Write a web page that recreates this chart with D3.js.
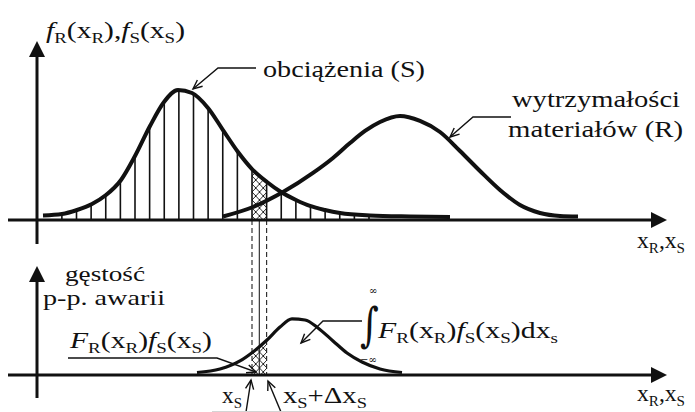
<!DOCTYPE html>
<html>
<head>
<meta charset="utf-8">
<script src="https://cdn.jsdelivr.net/npm/d3@7"></script>
<style>
  html, body { margin: 0; padding: 0; background: #fff; }
  svg { display: block; }
</style>
</head>
<body>
<svg id="chart" width="695" height="412"></svg>
<script>
// Load density f_S(x_S) – "obciążenia (S)"
const loadX = [1.2, 5, 8, 11, 13.8, 16.8, 19.6, 22.6, 25.4, 28.2, 31, 34.2, 37.2, 40.2, 43, 46, 48.8, 51.8, 54.6, 57.6, 60.6, 66.6, 74.6, 82.6];
const loadF = [0.035, 0.046, 0.077, 0.123, 0.192, 0.308, 0.492, 0.723, 0.908, 1.0, 0.977, 0.862, 0.692, 0.523, 0.392, 0.292, 0.215, 0.154, 0.108, 0.077, 0.054, 0.035, 0.027, 0.023];

// Resistance density f_R(x_R) – "wytrzymałości materiałów (R)"
const resX = [37.2, 43.2, 49.2, 55.2, 59.2, 62.6, 65.6, 68.6, 72.6, 76.6, 80.6, 84.6, 88.6, 92.6, 96.6, 100.6, 104.6, 108.2];
const resF = [0.027, 0.1, 0.215, 0.362, 0.477, 0.592, 0.685, 0.754, 0.8, 0.762, 0.677, 0.531, 0.377, 0.231, 0.115, 0.054, 0.031, 0.027];

// Failure probability density F_R(x) f_S(x)
const failX = [32, 36.6, 40.6, 43.2, 46, 48.6, 51, 53.6, 56.2, 59.2, 62, 65, 68.6, 73];
const failF = [0.019, 0.046, 0.108, 0.177, 0.269, 0.369, 0.431, 0.423, 0.362, 0.262, 0.169, 0.1, 0.046, 0.019];

// Elementary strip [x_S, x_S + Δx_S] and the hatching extent under f_S
const stripStart = 43;
const stripWidth = 2.925;
const hatchFrom = 4.975;
const hatchTo = 66.5;

const loadPts = loadX.map((v, i) => [v, loadF[i]]);
const resPts = resX.map((v, i) => [v, resF[i]]);
const failPts = failX.map((v, i) => [v, failF[i]]);

const svg = d3.select("#chart");
const x = d3.scaleLinear().domain([0, 126]).range([37, 667]);
const yTop = d3.scaleLinear().domain([0, 1]).range([220, 90]);
const yBot = d3.scaleLinear().domain([0, 1]).range([375, 245]);

const defs = svg.append("defs");

// cross-hatch fill for the strip
const pat = defs.append("pattern")
  .attr("id", "xhatch").attr("patternUnits", "userSpaceOnUse")
  .attr("x", x(stripStart)).attr("y", 0)
  .attr("width", 7.5).attr("height", 8);
pat.append("path").attr("d", "M0,0L7.5,8M7.5,0L0,8M-1,7L1,9M6.5,-1L8.5,1")
  .attr("stroke", "#111").attr("stroke-width", 0.9).attr("fill", "none");

const lineTop = d3.line().x(d => x(d[0])).y(d => yTop(d[1])).curve(d3.curveMonotoneX);
const lineBot = d3.line().x(d => x(d[0])).y(d => yBot(d[1])).curve(d3.curveMonotoneX);
const areaTop = d3.area().x(d => x(d[0])).y0(yTop(0)).y1(d => yTop(d[1])).curve(d3.curveMonotoneX);
const areaBot = d3.area().x(d => x(d[0])).y0(yBot(0)).y1(d => yBot(d[1])).curve(d3.curveMonotoneX);

defs.append("clipPath").attr("id", "underLoad").append("path").attr("d", areaTop(loadPts));
defs.append("clipPath").attr("id", "underFail").append("path").attr("d", areaBot(failPts));

// vertical hatching under the load density
const hatchXs = d3.range(hatchFrom, hatchTo, stripWidth);
svg.append("g").attr("clip-path", "url(#underLoad)")
  .selectAll("line").data(hatchXs).join("line")
  .attr("x1", d => x(d)).attr("x2", d => x(d))
  .attr("y1", yTop(0)).attr("y2", yTop(1.1))
  .attr("stroke", "#111").attr("stroke-width", 1.6);

// cross-hatched strip in both panels
svg.append("rect").attr("clip-path", "url(#underLoad)")
  .attr("x", x(stripStart)).attr("width", x(stripStart + stripWidth) - x(stripStart))
  .attr("y", yTop(1.1)).attr("height", yTop(0) - yTop(1.1))
  .attr("fill", "url(#xhatch)");
svg.append("rect").attr("clip-path", "url(#underFail)")
  .attr("x", x(stripStart)).attr("width", x(stripStart + stripWidth) - x(stripStart))
  .attr("y", yBot(1.1)).attr("height", yBot(0) - yBot(1.1))
  .attr("fill", "url(#xhatch)");

// guide lines joining the strip between panels
[stripStart, stripStart + stripWidth].forEach(v => {
  svg.append("line").attr("x1", x(v)).attr("x2", x(v))
    .attr("y1", yTop(0)).attr("y2", yBot(0))
    .attr("stroke", "#222").attr("stroke-width", 1.1).attr("stroke-dasharray", "5,3");
});
svg.append("line")
  .attr("x1", x(stripStart + stripWidth / 2)).attr("x2", x(stripStart + stripWidth / 2))
  .attr("y1", yTop(0)).attr("y2", yBot(0))
  .attr("stroke", "#222").attr("stroke-width", 1.1);

// density curves
svg.append("path").attr("d", lineTop(loadPts)).attr("fill", "none")
  .attr("stroke", "#111").attr("stroke-width", 4).attr("stroke-linecap", "butt");
svg.append("path").attr("d", lineTop(resPts)).attr("fill", "none")
  .attr("stroke", "#111").attr("stroke-width", 4).attr("stroke-linecap", "butt");
svg.append("path").attr("d", lineBot(failPts)).attr("fill", "none")
  .attr("stroke", "#111").attr("stroke-width", 3.2).attr("stroke-linecap", "butt");

// axes with filled arrowheads
function axisArrow(x1, y1, x2, y2) {
  const ang = Math.atan2(y2 - y1, x2 - x1), L = 16, W = 8;
  const bx = x2 - L * Math.cos(ang), by = y2 - L * Math.sin(ang);
  svg.append("line").attr("x1", x1).attr("y1", y1).attr("x2", bx).attr("y2", by)
    .attr("stroke", "#111").attr("stroke-width", 3);
  svg.append("polygon").attr("fill", "#111").attr("points", [
    [x2, y2],
    [bx + W * Math.sin(ang), by - W * Math.cos(ang)],
    [bx - W * Math.sin(ang), by + W * Math.cos(ang)]
  ].map(p => p.join(",")).join(" "));
}
axisArrow(8, yTop(0), 667, yTop(0));
axisArrow(x(0), 244, x(0), 41);
axisArrow(8, yBot(0), 667, yBot(0));
axisArrow(x(0), 398, x(0), 266);

// leader lines with open arrowheads
function leader(pts) {
  svg.append("path").attr("d", d3.line()(pts)).attr("fill", "none")
    .attr("stroke", "#111").attr("stroke-width", 1.4);
  const [p, q] = pts.slice(-2);
  const ang = Math.atan2(q[1] - p[1], q[0] - p[0]), L = 10, a = 0.42;
  const arm = s => [q[0] - L * Math.cos(ang + s * a), q[1] - L * Math.sin(ang + s * a)];
  svg.append("path").attr("d", d3.line()([arm(1), q, arm(-1)])).attr("fill", "none")
    .attr("stroke", "#111").attr("stroke-width", 1.4);
}
leader([[256, 68], [218, 68], [193, 89]]);
leader([[511, 117], [473, 117], [450, 137]]);
leader([[362, 321], [323, 321], [301, 343]]);
leader([[68, 358], [217, 358], [256, 372]]);
leader([[246, 412], [251, 380]]);
leader([[281, 412], [268, 381]]);

svg.append("line").attr("x1", 212).attr("x2", 380).attr("y1", 411.5).attr("y2", 411.5)
  .attr("stroke", "#d4d4d4").attr("stroke-width", 1);

// text with {i:..} italic and {s:..} subscript runs
function mathLabel(px, py, src, width, size) {
  const t = svg.append("text").attr("x", px).attr("y", py)
    .attr("font-family", "'Liberation Serif', 'DejaVu Serif', serif")
    .attr("font-size", size).attr("fill", "#111");
  let shift = 0;
  src.split(/(\{[is]:[^}]*\})/).filter(s => s.length).forEach(tok => {
    const m = tok.match(/^\{([is]):([^}]*)\}$/);
    const kind = m ? m[1] : "n", txt = m ? m[2] : tok;
    const target = kind === "s" ? size * 0.2 : 0;
    const ts = t.append("tspan").text(txt).attr("dy", target - shift);
    shift = target;
    if (kind === "s") ts.attr("font-size", size * 0.64);
    if (kind === "i") ts.attr("font-style", "italic");
  });
  if (width) t.attr("textLength", width).attr("lengthAdjust", "spacingAndGlyphs");
  return t;
}

mathLabel(46, 38, "{i:f}{s:R}(x{s:R}),{i:f}{s:S}(x{s:S})", 139, 23);
mathLabel(263, 77, "obciążenia (S)", 162, 23);
mathLabel(512, 107, "wytrzymałości", 168, 23);
mathLabel(508, 137, "materiałów (R)", 175, 23);
mathLabel(637, 248, "x{s:R},x{s:S}", 48, 23);
mathLabel(637, 401, "x{s:R},x{s:S}", 48, 23);
mathLabel(65, 281, "gęstość", 80, 21);
mathLabel(43, 305, "p-p. awarii", 122, 21);
mathLabel(70, 348, "{i:F}{s:R}(x{s:R}){i:f}{s:S}(x{s:S})", 142, 23);
mathLabel(378, 338, "{i:F}{s:R}(x{s:R}){i:f}{s:S}(x{s:S})dx{s:s}", 180, 23);
mathLabel(222, 403, "x{s:S}", 20, 23);
mathLabel(283, 403, "x{s:S}+Δx{s:S}", 84, 23);

// integral sign with limits
svg.append("text").attr("x", 360).attr("y", 341)
  .attr("font-family", "'DejaVu Serif', serif").attr("font-size", 36)
  .attr("transform", "translate(0,341) scale(1,1.3) translate(0,-341)")
  .attr("fill", "#111").text("∫");
svg.append("text").attr("x", 369).attr("y", 294).attr("font-family", "'DejaVu Serif', serif")
  .attr("font-size", 10).attr("fill", "#111").text("∞");
svg.append("text").attr("x", 360).attr("y", 363).attr("font-family", "'DejaVu Serif', serif")
  .attr("font-size", 10).attr("fill", "#111").text("−∞");
</script>
</body>
</html>
